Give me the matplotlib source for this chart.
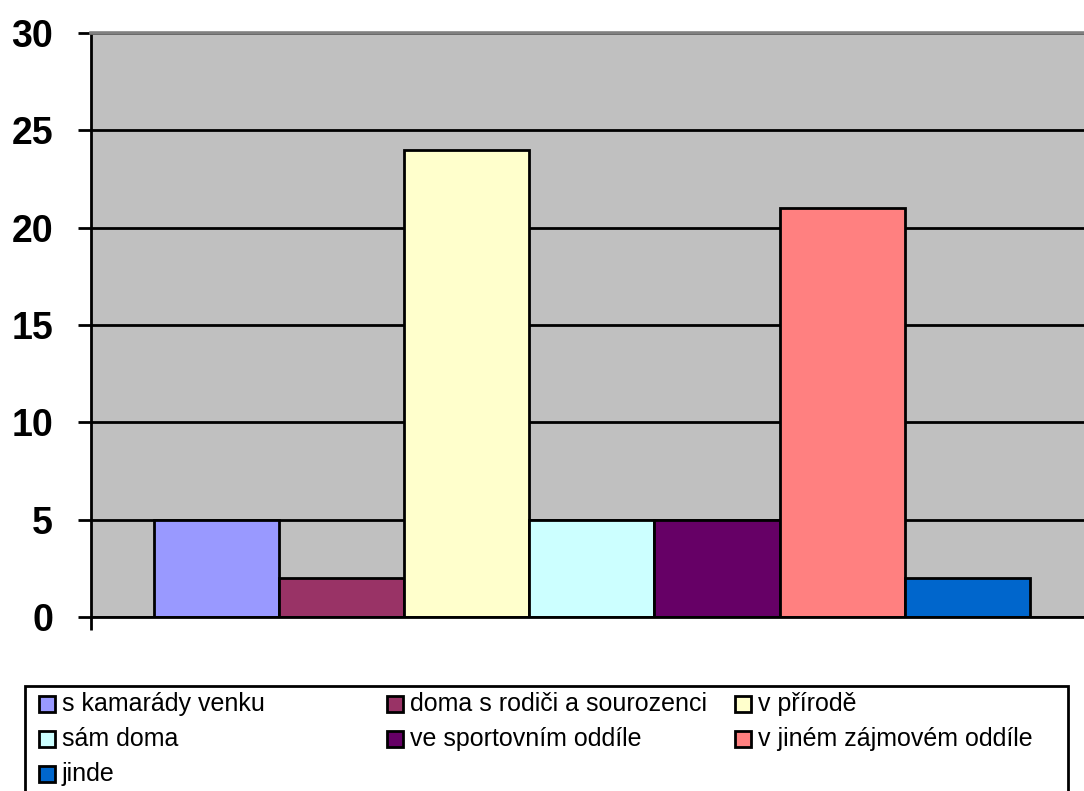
import matplotlib
matplotlib.use("Agg")
import matplotlib.pyplot as plt
from matplotlib.patches import Rectangle

plt.rcParams['font.family'] = ['Liberation Sans', 'DejaVu Sans']

# data
series = ["s kamarády venku", "doma s rodiči a sourozenci", "v přírodě",
          "sám doma", "ve sportovním oddíle", "v jiném zájmovém oddíle", "jinde"]
values = [5, 2, 24, 5, 5, 21, 2]
colors = ['#9999FF', '#993366', '#FFFFCC', '#CCFFFF', '#660066', '#FF8080', '#0066CC']
yticks = [0, 5, 10, 15, 20, 25, 30]

W, H = 1084, 791
fig = plt.figure(figsize=(W / 100, H / 100), dpi=100)

# plot area runs past the right edge, like the original screenshot
bar_px = 125.2
ax = fig.add_axes([91 / W, 1 - 617 / H, 8 * bar_px / W, 584 / H])
ax.set_facecolor('#C0C0C0')

pos = [i - 3 for i in range(len(values))]
ax.bar(pos, values, width=1.0, color=colors, edgecolor='black', linewidth=2.0, zorder=2)

ax.set_xlim(-4, 4)
ax.set_ylim(0, 30)
ax.set_yticks(yticks)
ax.set_yticklabels([str(t) for t in yticks], fontsize=27, fontweight='bold')
ax.yaxis.grid(True, color='black', linewidth=2.0)
ax.set_axisbelow(True)

ax.set_xticks([-4])
ax.set_xticklabels([''])
ax.tick_params(axis='x', direction='out', length=9.4, width=2.0, color='black')
ax.tick_params(axis='y', direction='out', length=9.4, width=2.0, color='black', pad=18)

ax.spines['left'].set_color('black')
ax.spines['left'].set_linewidth(2.0)
ax.spines['bottom'].set_color('black')
ax.spines['bottom'].set_linewidth(2.0)
ax.spines['top'].set_color('#808080')
ax.spines['top'].set_linewidth(2.6)
ax.spines['right'].set_visible(False)

# legend box, Excel style: fixed width columns, filled row by row
def px(x, y):
    return x / W, 1 - y / H

lx, ly = px(25, 686)
fig.patches.append(Rectangle((lx, -0.02), (1068 - 25) / W, ly + 0.02,
                             transform=fig.transFigure, facecolor='white',
                             edgecolor='black', linewidth=2.0))

col_x = [39, 387, 735]
row_y = [704, 739, 774]
sq = 16
for i, (name, c) in enumerate(zip(series, colors)):
    cx = col_x[i % 3]
    cy = row_y[i // 3]
    x0, y0 = px(cx, cy + sq / 2)
    fig.patches.append(Rectangle((x0, y0), sq / W, sq / H, transform=fig.transFigure,
                                 facecolor=c, edgecolor='black', linewidth=2.0))
    tx, ty = px(cx + sq + 7, cy)
    fig.text(tx, ty, name, fontsize=18, va='center', ha='left')

fig.savefig('out.png', dpi=100)
